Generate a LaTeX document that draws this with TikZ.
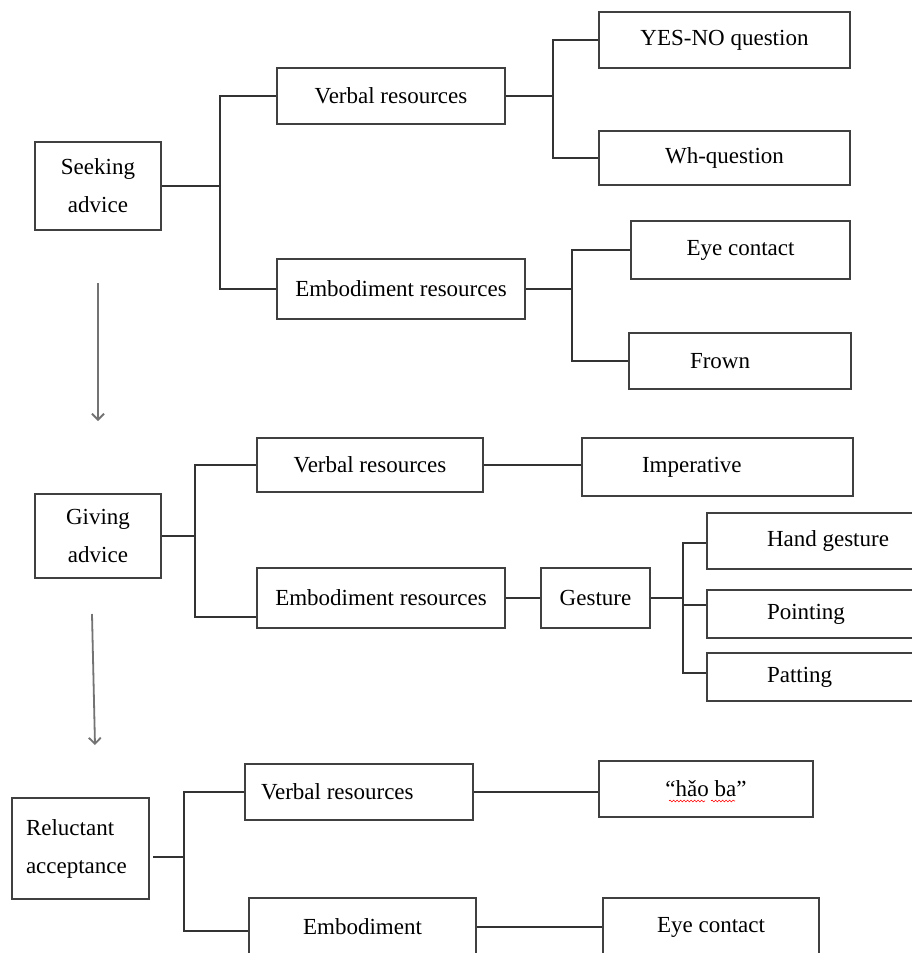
\documentclass[tikz,border=0pt]{standalone}
\usepackage{fontspec}
\setmainfont{Liberation Serif}
\usetikzlibrary{calc,arrows.meta,decorations.pathmorphing}

\begin{document}
\begin{tikzpicture}[x=1pt,y=-1pt,
    box/.style={draw=black!75, line width=2pt, rectangle, inner sep=2pt,
        font=\fontsize{23pt}{38pt}\selectfont, align=center},
    lbox/.style={box, align=flush left},
    link/.style={draw=black!80, line width=2pt},
    flow/.style={draw=black!55, line width=1.8pt, -{Straight Barb[length=6pt,width=12pt]}}]
    \useasboundingbox (0,0) rectangle (912,953);
    \clip (0,0) rectangle (912,953);
    \fill[white] (0,0) rectangle (912,953);
    %% seeking advice
    \node[box, minimum width=126pt, minimum height=88pt] (seek) at (98,186) {Seeking\\advice};
    \node[box, minimum width=228pt, minimum height=56pt] (verb1) at (391,96) {Verbal resources};
    \node[box, minimum width=248pt, minimum height=60pt] (emb1) at (401,289) {Embodiment resources};
    \node[box, minimum width=251pt, minimum height=56pt] (yesno) at (724.5,40) {YES-NO question};
    \node[box, minimum width=251pt, minimum height=54pt] (whq) at (724.5,158) {Wh-question};
    \node[box, minimum width=219pt, minimum height=58pt] (eye1) at (740.5,250) {Eye contact};
    \node[lbox, inner xsep=61pt, text width=100pt, minimum height=56pt] (frown) at (740,361) {Frown};
    %% giving advice
    \node[box, minimum width=126pt, minimum height=84pt] (give) at (98,536) {Giving\\advice};
    \node[box, minimum width=226pt, minimum height=54pt] (verb2) at (370,465) {Verbal resources};
    \node[box, minimum width=248pt, minimum height=60pt] (emb2) at (381,598) {Embodiment resources};
    \node[lbox, inner xsep=60pt, text width=151pt, minimum height=58pt] (imper) at (717.5,467) {Imperative};
    \node[box, minimum width=109pt, minimum height=60pt] (gest) at (595.5,598) {Gesture};
    \node[lbox, inner xsep=60pt, text width=133pt, minimum height=56pt] (hand) at (833.5,541) {Hand gesture};
    \node[lbox, inner xsep=60pt, text width=133pt, minimum height=48pt] (point) at (833.5,614) {Pointing};
    \node[lbox, inner xsep=60pt, text width=133pt, minimum height=48pt] (pat) at (833.5,677) {Patting};
    %% reluctant acceptance
    \node[lbox, inner xsep=14pt, text width=109pt, minimum height=101pt] (reluc) at (80.5,848.5) {Reluctant\\acceptance};
    \node[lbox, inner xsep=16pt, text width=196pt, minimum height=56pt] (verb3) at (359,792) {Verbal resources};
    \node[box, minimum width=227pt, minimum height=58pt] (emb3) at (362.5,927) {Embodiment};
    \node[box, minimum width=214pt, minimum height=56pt] (hao) at (706,789) {“hǎo ba”};
    \node[box, minimum width=216pt, minimum height=58pt] (eye3) at (711,927) {Eye contact};
    %% spell-check marks
    \draw[red, line width=0.6pt, decorate, decoration={snake, amplitude=0.9pt, segment length=3.5pt}] (669,801) -- (705,801);
    \draw[red, line width=0.6pt, decorate, decoration={snake, amplitude=0.9pt, segment length=3.5pt}] (711,801) -- (735,801);
    %% connectors
    \draw[link] (seek.east) -- ++(58,0) |- (verb1.west);
    \draw[link] (seek.east) ++(58,0) |- (emb1.west);
    \draw[link] (verb1.east) -- ++(47,0) |- (yesno.west);
    \draw[link] (verb1.east) ++(47,0) |- (whq.west);
    \draw[link] (emb1.east) -- ++(46,0) |- (eye1.west);
    \draw[link] (emb1.east) ++(46,0) |- (frown.west);
    \draw[link] (give.east) -- ++(33,0) |- (verb2.west);
    \draw[link] (give.east) ++(33,0) |- ($(emb2.west)+(0,19)$);
    \draw[link] (verb2.east) -- (verb2.east -| imper.west);
    \draw[link] (emb2) -- (gest);
    \draw[link] (gest.east) -- ++(32,0) |- ($(hand.west)+(0,2)$);
    \draw[link] (gest.east) ++(32,0) |- ($(point.west)+(0,-9)$);
    \draw[link] (gest.east) ++(32,0) |- ($(pat.west)+(0,-4)$);
    \draw[link] ($(reluc.east)+(3,8.5)$) -- ++(31,0) |- (verb3.west);
    \draw[link] ($(reluc.east)+(3,8.5)$) ++(31,0) |- ($(emb3.west)+(0,4)$);
    \draw[link] (verb3.east) -- (verb3.east -| hao.west);
    \draw[link] (emb3.east) -- (emb3.east -| eye3.west);
    %% arrows between stages
    \draw[flow] ([yshift=-52pt]seek.south) -- ([yshift=72pt]give.north);
    \draw[flow] ([xshift=-6pt,yshift=-35pt]give.south) -- ([xshift=14.5pt,yshift=52pt]reluc.north);
\end{tikzpicture}
\end{document}
